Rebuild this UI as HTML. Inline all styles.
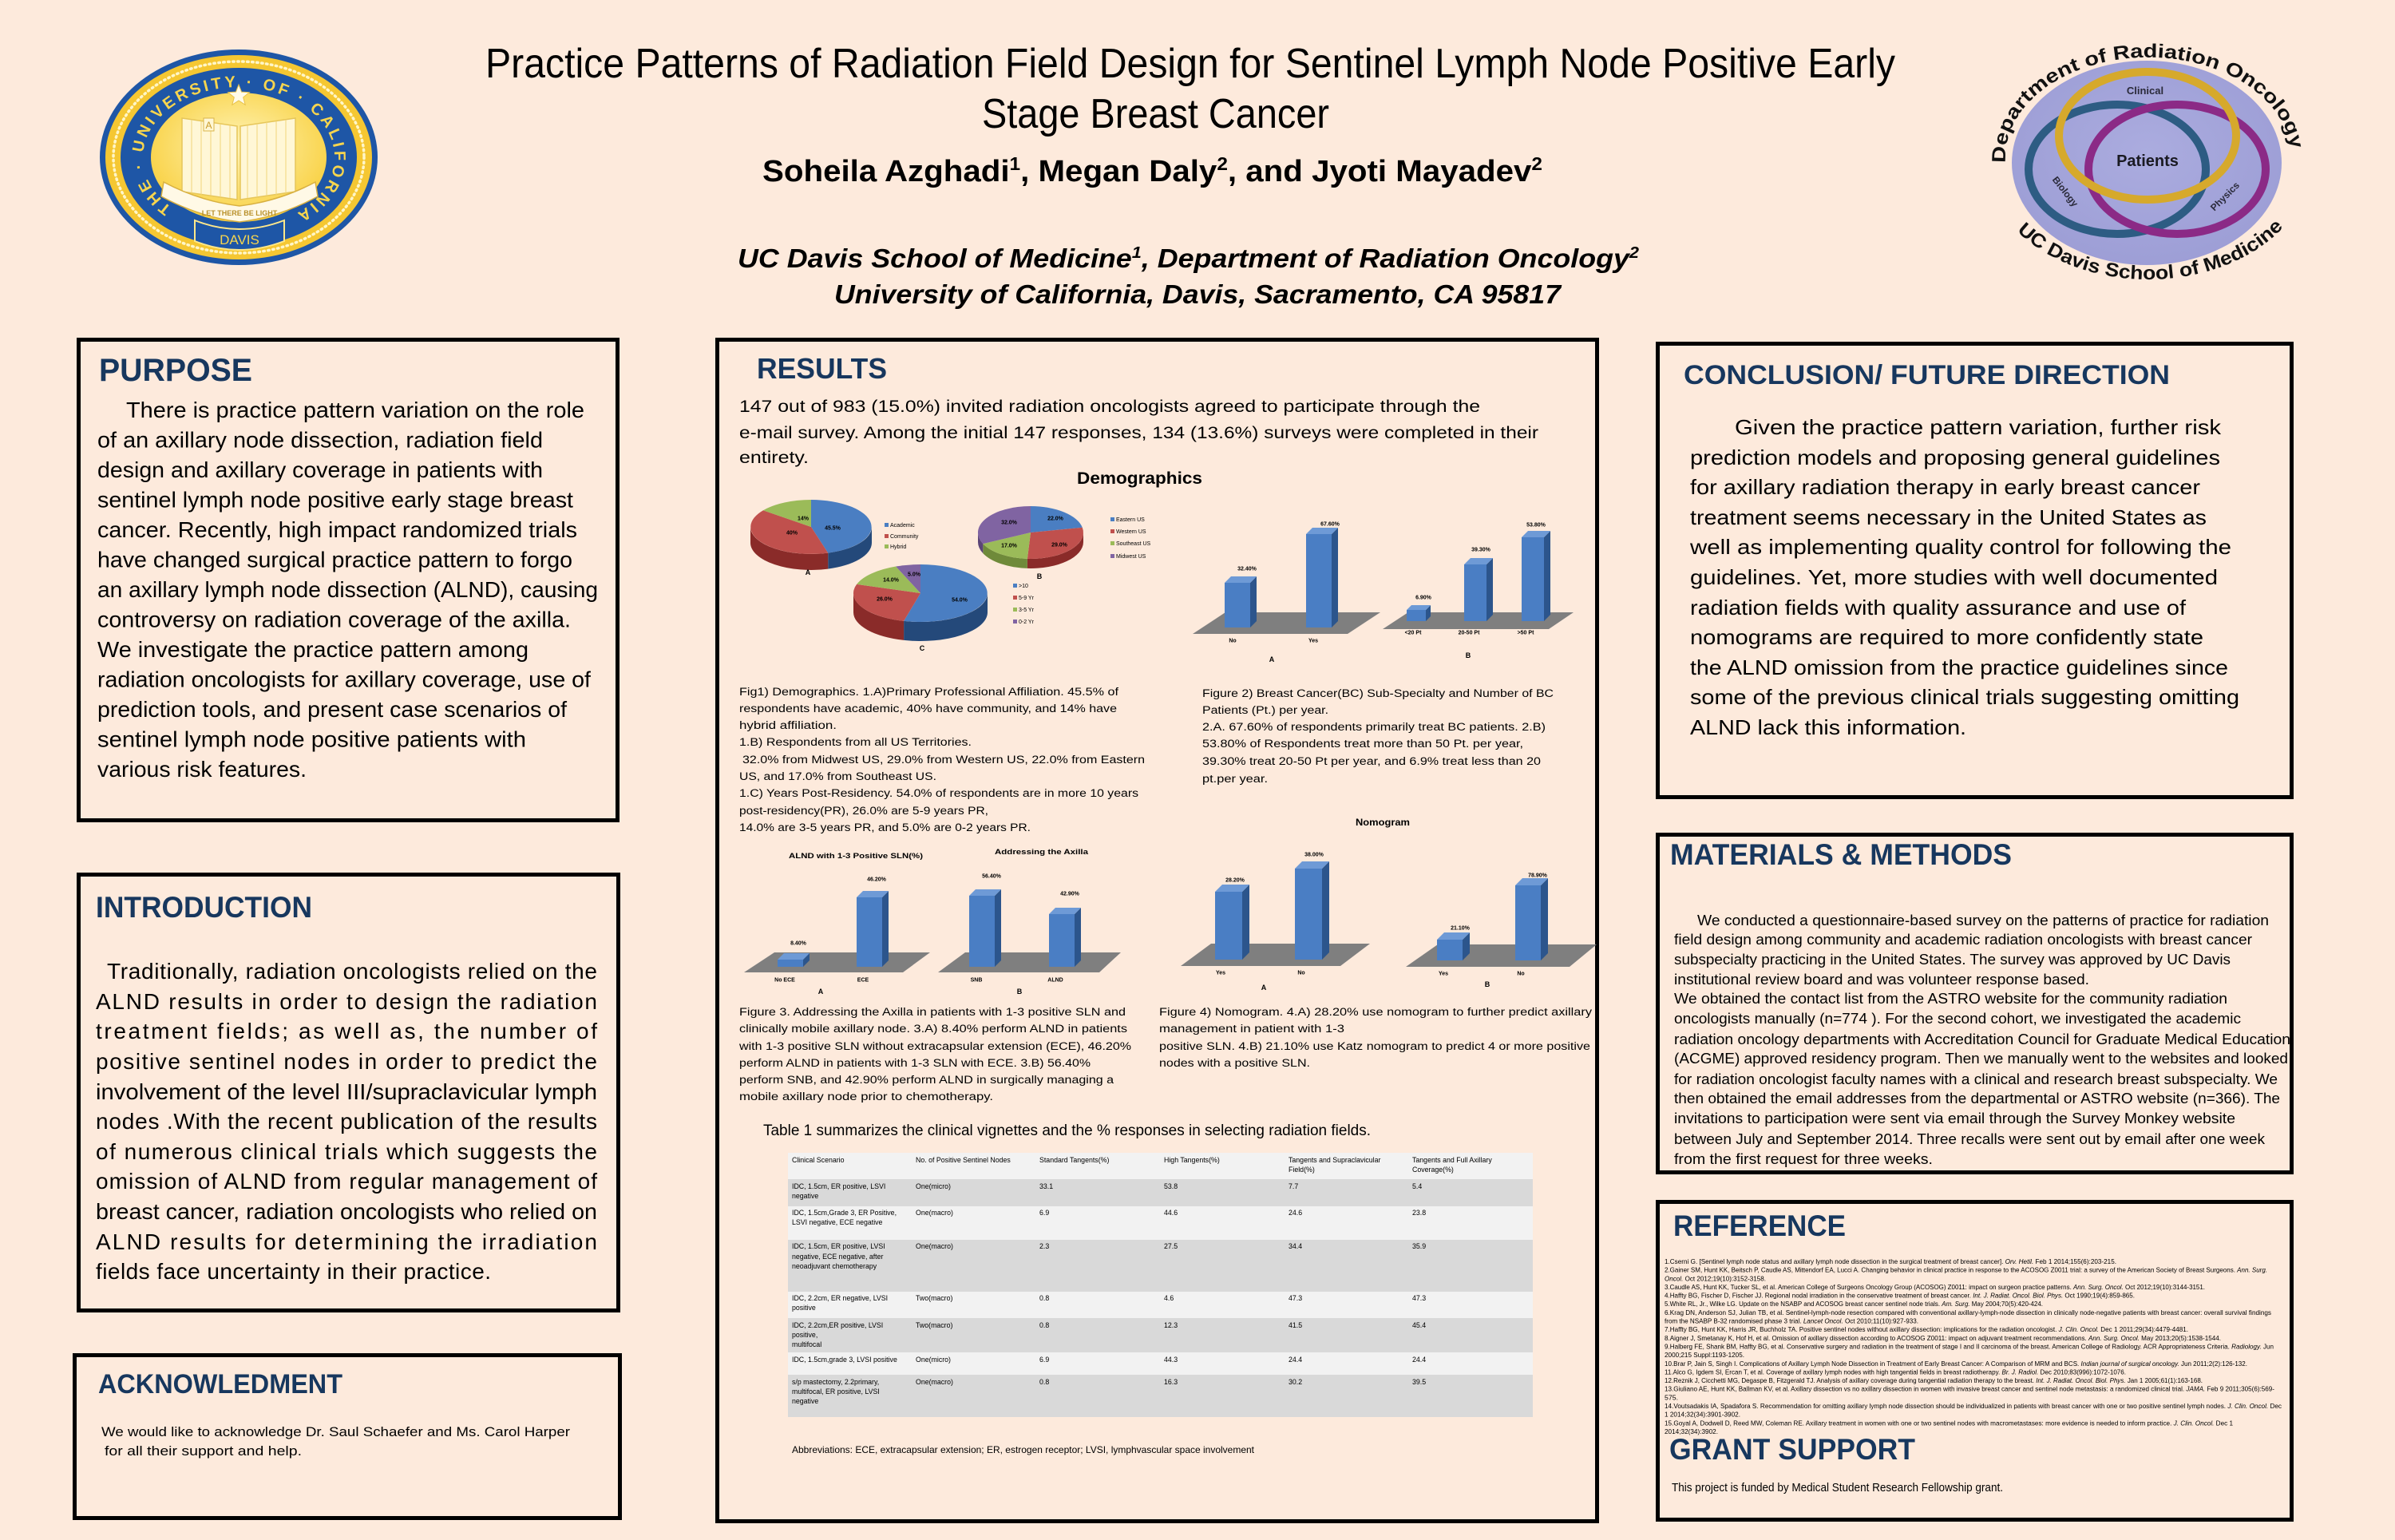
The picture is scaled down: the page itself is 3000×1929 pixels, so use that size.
<!DOCTYPE html>
<html><head><meta charset="utf-8"><title>Practice Patterns of Radiation Field Design</title>
<style>
html,body{margin:0;padding:0;background:#FDEADC;}
svg{display:block;}
text{font-family:"Liberation Sans",Arial,sans-serif;fill:#000;}
.h{font-weight:bold;fill:#17375E;}
.b{font-weight:bold;}
.bi{font-weight:bold;font-style:italic;}
.i{font-style:italic;}
.p{font-size:28px;}
.c{font-size:13.5px;}
.m{font-size:18.5px;}
.r{font-size:8.6px;}
.cl{font-size:26px;}
.tb{font-size:8.8px;fill:#222;}
.lb{font-size:7px;font-weight:bold;text-anchor:middle;}
.lg{font-size:7px;}
.ab{font-size:9px;font-weight:bold;text-anchor:middle;}
.box{fill:none;stroke:#000;stroke-width:5;}
</style></head>
<body>
<svg width="3000" height="1929" viewBox="0 0 3000 1929" xmlns="http://www.w3.org/2000/svg">
<defs>
<radialGradient id="goldg" cx="50%" cy="42%" r="60%"><stop offset="0" stop-color="#FFF4B8"/><stop offset="1" stop-color="#F8CF3C"/></radialGradient>
<radialGradient id="lav" cx="50%" cy="45%" r="60%"><stop offset="0" stop-color="#ABACDF"/><stop offset="1" stop-color="#9C9DD5"/></radialGradient>
</defs>
<rect x="0" y="0" width="3000" height="1929" fill="#FDEADC"/>

<!-- ========== UC Davis seal ========== -->
<g>
<ellipse cx="299" cy="197" rx="174" ry="135" fill="#1E56A6"/>
<ellipse cx="299" cy="197" rx="167" ry="128" fill="#F5C732"/>
<ellipse cx="299" cy="197" rx="157" ry="120" fill="none" stroke="#FFF6C8" stroke-width="3.5" stroke-dasharray="1.5 4.5" stroke-linecap="round"/>
<ellipse cx="299" cy="197" rx="148" ry="112" fill="#1E56A6"/>
<ellipse cx="299" cy="197" rx="110" ry="81" fill="url(#goldg)"/>
<path id="sealArc" d="M221.9,264.4 A120,88 0 1 1 376.1,264.4" fill="none"/>
<text font-size="20" style="fill:#F7D54E" font-weight="bold"><textPath href="#sealArc" startOffset="8" textLength="492" lengthAdjust="spacing">THE · UNIVERSITY · OF · CALIFORNIA</textPath></text>
<polygon points="299,106 302.5,115.1 312.3,115.7 304.7,121.9 307.2,131.3 299,126 290.8,131.3 293.3,121.9 285.7,115.7 295.5,115.1" fill="#FFFBE8" stroke="#E8C24A" stroke-width="1"/>
<polygon points="228,148 297,158 297,250 228,240" fill="#FFF7D6" stroke="#E6C65A" stroke-width="1.5"/>
<polygon points="301,158 370,148 370,240 301,250" fill="#FFF7D6" stroke="#E6C65A" stroke-width="1.5"/>
<g stroke="#F0D67A" stroke-width="1">
<line x1="240" y1="150" x2="240" y2="242"/><line x1="252" y1="152" x2="252" y2="244"/><line x1="264" y1="153" x2="264" y2="245"/><line x1="276" y1="155" x2="276" y2="247"/><line x1="288" y1="157" x2="288" y2="248"/>
<line x1="310" y1="157" x2="310" y2="248"/><line x1="322" y1="155" x2="322" y2="247"/><line x1="334" y1="153" x2="334" y2="245"/><line x1="346" y1="152" x2="346" y2="244"/><line x1="358" y1="150" x2="358" y2="242"/>
</g>
<rect x="255" y="148" width="13" height="16" fill="#FFF7D6" stroke="#D9B44A" stroke-width="1"/>
<text x="261.5" y="161" font-size="12" text-anchor="middle" style="fill:#C89B2A">A</text>
<path d="M205,228 Q250,252 300,258 Q350,252 395,228 L398,246 Q350,272 300,278 Q250,272 202,246 Z" fill="#FFF9E6" stroke="#D8B040" stroke-width="1.5"/>
<text x="300" y="270" font-size="9" text-anchor="middle" style="fill:#B8902A" font-weight="bold">LET THERE BE LIGHT</text>
<path d="M244,276 Q299,298 356,276 L356,302 Q299,324 244,302 Z" fill="#1E56A6" stroke="#FFE88A" stroke-width="2"/>
<text x="300" y="306" font-size="17" text-anchor="middle" style="fill:#F7D54E">DAVIS</text>
</g>

<!-- ========== Title ========== -->
<text x="608" y="97" font-size="52" textLength="1766" lengthAdjust="spacingAndGlyphs">Practice Patterns of Radiation Field Design for Sentinel Lymph Node Positive Early</text>
<text x="1230" y="160" font-size="52" textLength="435" lengthAdjust="spacingAndGlyphs">Stage Breast Cancer</text>
<text x="955" y="227" font-size="38" class="b" textLength="977" lengthAdjust="spacingAndGlyphs">Soheila Azghadi<tspan font-size="23" dy="-14">1</tspan><tspan dy="14">, Megan Daly</tspan><tspan font-size="23" dy="-14">2</tspan><tspan dy="14">, and Jyoti Mayadev</tspan><tspan font-size="23" dy="-14">2</tspan></text>
<text x="924" y="335" font-size="33" class="bi" textLength="1129" lengthAdjust="spacingAndGlyphs">UC Davis School of Medicine<tspan font-size="20" dy="-12">1</tspan><tspan dy="12">, Department of Radiation Oncology</tspan><tspan font-size="20" dy="-12">2</tspan></text>
<text x="1045" y="380" font-size="33" class="bi" textLength="910" lengthAdjust="spacingAndGlyphs">University of California, Davis, Sacramento, CA 95817</text>

<!-- ========== Dept logo ========== -->
<g>
<ellipse cx="2689" cy="204" rx="169" ry="128" fill="url(#lav)"/>
<ellipse cx="2652" cy="212" rx="111" ry="81" fill="none" stroke="#2D5C83" stroke-width="10"/>
<ellipse cx="2727" cy="212" rx="111" ry="81" fill="none" stroke="#8B2A86" stroke-width="10"/>
<ellipse cx="2690" cy="170" rx="111" ry="80" fill="none" stroke="#D6A92C" stroke-width="10"/>
<text x="2687" y="118" font-size="13" class="b" text-anchor="middle" style="fill:#2A2A3A">Clinical</text>
<text x="2690" y="208" font-size="20" class="b" text-anchor="middle" style="fill:#1A1A22">Patients</text>
<text x="2587" y="244" font-size="12" class="b" text-anchor="middle" style="fill:#2A2A3A" transform="rotate(52 2587 240)">Biology</text>
<text x="2787" y="250" font-size="12" class="b" text-anchor="middle" style="fill:#2A2A3A" transform="rotate(-45 2787 246)">Physics</text>
<path id="topArc" d="M2513,210 A179,125 0 1 1 2869,210" fill="none"/>
<text font-size="24" class="b" style="fill:#111"><textPath href="#topArc" startOffset="6" textLength="478" lengthAdjust="spacingAndGlyphs">Department of Radiation Oncology</textPath></text>
<path id="botArc" d="M2525,288 A206,152 0 0 0 2857,288" fill="none"/>
<text font-size="24" class="b" style="fill:#111"><textPath href="#botArc" startOffset="2" textLength="366" lengthAdjust="spacingAndGlyphs">UC Davis School of Medicine</textPath></text>
</g>

<!-- ========== Boxes ========== -->
<rect class="box" x="98.5" y="425.5" width="675" height="602"/>
<rect class="box" x="98.5" y="1095.5" width="676" height="546"/>
<rect class="box" x="93.5" y="1697.5" width="683" height="204"/>
<rect class="box" x="898.5" y="425.5" width="1102" height="1480"/>
<rect class="box" x="2076.5" y="430.5" width="794" height="568"/>
<rect class="box" x="2076.5" y="1045.5" width="794" height="423"/>
<rect class="box" x="2076.5" y="1505.5" width="794" height="398"/>

<!-- ========== PURPOSE ========== -->
<text x="124" y="477" font-size="40" class="h" textLength="192" lengthAdjust="spacingAndGlyphs">PURPOSE</text>
<g class="p">
<text x="158" y="523" textLength="574" lengthAdjust="spacingAndGlyphs">There is practice pattern variation on the role</text>
<text x="122" y="560.5" textLength="558" lengthAdjust="spacingAndGlyphs">of an axillary node dissection, radiation field</text>
<text x="122" y="598" textLength="558" lengthAdjust="spacingAndGlyphs">design and axillary coverage in patients with</text>
<text x="122" y="635.5" textLength="596" lengthAdjust="spacingAndGlyphs">sentinel lymph node positive early stage breast</text>
<text x="122" y="673" textLength="601" lengthAdjust="spacingAndGlyphs">cancer.  Recently, high impact randomized trials</text>
<text x="122" y="710.5" textLength="595" lengthAdjust="spacingAndGlyphs">have changed surgical practice pattern to forgo</text>
<text x="122" y="748" textLength="627" lengthAdjust="spacingAndGlyphs">an axillary lymph node dissection (ALND), causing</text>
<text x="122" y="785.5" textLength="593" lengthAdjust="spacingAndGlyphs">controversy on radiation coverage of the axilla.</text>
<text x="122" y="823" textLength="540" lengthAdjust="spacingAndGlyphs">We investigate the practice pattern among</text>
<text x="122" y="860.5" textLength="618" lengthAdjust="spacingAndGlyphs">radiation oncologists for axillary coverage, use of</text>
<text x="122" y="898" textLength="588" lengthAdjust="spacingAndGlyphs">prediction tools, and present case scenarios of</text>
<text x="122" y="935.5" textLength="537" lengthAdjust="spacingAndGlyphs">sentinel lymph node positive patients with</text>
<text x="122" y="973" textLength="262" lengthAdjust="spacingAndGlyphs">various risk features.</text>
</g>

<!-- ========== INTRODUCTION ========== -->
<text x="120" y="1149" font-size="37" class="h" textLength="271" lengthAdjust="spacingAndGlyphs">INTRODUCTION</text>
<g class="p">
<text x="134" y="1226" textLength="614" lengthAdjust="spacing">Traditionally, radiation oncologists relied on the</text>
<text x="120" y="1264" textLength="628" lengthAdjust="spacing">ALND results in order to design the radiation</text>
<text x="120" y="1301" textLength="628" lengthAdjust="spacing">treatment fields; as well as, the number of</text>
<text x="120" y="1339" textLength="628" lengthAdjust="spacing">positive sentinel nodes in order to predict the</text>
<text x="120" y="1377" textLength="628" lengthAdjust="spacingAndGlyphs">involvement of the level III/supraclavicular lymph</text>
<text x="120" y="1414" textLength="628" lengthAdjust="spacing">nodes .With the recent publication of the results</text>
<text x="120" y="1452" textLength="628" lengthAdjust="spacing">of numerous clinical trials which suggests the</text>
<text x="120" y="1489" textLength="628" lengthAdjust="spacing">omission of ALND from regular management of</text>
<text x="120" y="1527" textLength="628" lengthAdjust="spacingAndGlyphs">breast cancer, radiation oncologists who relied on</text>
<text x="120" y="1565" textLength="628" lengthAdjust="spacing">ALND results for determining the irradiation</text>
<text x="120" y="1602" textLength="495" lengthAdjust="spacing">fields face uncertainty in their practice.</text>
</g>

<!-- ========== ACKNOWLEDGMENT ========== -->
<text x="123" y="1745" font-size="34" class="h" textLength="306" lengthAdjust="spacingAndGlyphs">ACKNOWLEDMENT</text>
<text x="127" y="1799" font-size="17" textLength="587" lengthAdjust="spacingAndGlyphs">We would like to acknowledge Dr. Saul Schaefer and Ms. Carol Harper</text>
<text x="131" y="1823" font-size="17" textLength="247" lengthAdjust="spacingAndGlyphs">for all their support and help.</text>

<!-- ========== RESULTS ========== -->
<text x="948" y="474" font-size="36" class="h" textLength="163" lengthAdjust="spacingAndGlyphs">RESULTS</text>
<text x="926" y="516" font-size="21" textLength="928" lengthAdjust="spacingAndGlyphs">147 out of 983 (15.0%) invited radiation oncologists agreed to participate through the</text>
<text x="926" y="549" font-size="21" textLength="1001" lengthAdjust="spacingAndGlyphs">e-mail survey. Among the initial 147 responses, 134 (13.6%) surveys were completed in their</text>
<text x="926" y="580" font-size="21" textLength="87" lengthAdjust="spacingAndGlyphs">entirety.</text>
<text x="1349" y="606" font-size="21" class="b" textLength="157" lengthAdjust="spacingAndGlyphs">Demographics</text>

<!-- Pie A -->
<path d="M1092,660 A76,34 0 0 1 1037.2,692.6 L1037.2,712.6 A76,34 0 0 0 1092,680 Z" fill="#24497A"/>
<path d="M1037.2,692.6 A76,34 0 0 1 940,660 L940,680 A76,34 0 0 0 1037.2,712.6 Z" fill="#8A2B29"/>
<path d="M1016,660 L1016,626 A76,34 0 0 1 1037.2,692.6 Z" fill="#4A7EC2"/>
<path d="M1016,660 L1037.2,692.6 A76,34 0 0 1 956,639.2 Z" fill="#C0504D"/>
<path d="M1016,660 L956,639.2 A76,34 0 0 1 1016,626 Z" fill="#9BBB59"/>
<text class="lb" x="1043" y="663.5">45.5%</text>
<text class="lb" x="992" y="669.5">40%</text>
<text class="lb" x="1006" y="651.5">14%</text>
<rect x="1108" y="655" width="5" height="5" fill="#4A7EC2"/><text class="lg" x="1115" y="660">Academic</text>
<rect x="1108" y="669" width="5" height="5" fill="#C0504D"/><text class="lg" x="1115" y="674">Community</text>
<rect x="1108" y="682" width="5" height="5" fill="#9BBB59"/><text class="lg" x="1115" y="687">Hybrid</text>
<text class="ab" x="1012" y="720">A</text>

<!-- Pie B -->
<path d="M1357,667 A66,33 0 0 1 1286.9,699.9 L1286.9,711.9 A66,33 0 0 0 1357,679 Z" fill="#8A2B29"/>
<path d="M1286.9,699.9 A66,33 0 0 1 1231.3,681.1 L1231.3,693.1 A66,33 0 0 0 1286.9,711.9 Z" fill="#6F8A3A"/>
<path d="M1231.3,681.1 A66,33 0 0 1 1225,667 L1225,679 A66,33 0 0 0 1231.3,693.1 Z" fill="#5B4577"/>
<path d="M1291,667 L1291,634 A66,33 0 0 1 1355.8,660.8 Z" fill="#4A7EC2"/>
<path d="M1291,667 L1355.8,660.8 A66,33 0 0 1 1286.9,699.9 Z" fill="#C0504D"/>
<path d="M1291,667 L1286.9,699.9 A66,33 0 0 1 1231.3,681.1 Z" fill="#9BBB59"/>
<path d="M1291,667 L1231.3,681.1 A66,33 0 0 1 1291,634 Z" fill="#8064A2"/>
<text class="lb" x="1322" y="651.5">22.0%</text>
<text class="lb" x="1327" y="684.5">29.0%</text>
<text class="lb" x="1264" y="685.5">17.0%</text>
<text class="lb" x="1264" y="656.5">32.0%</text>
<rect x="1391" y="648" width="5" height="5" fill="#4A7EC2"/><text class="lg" x="1398" y="653">Eastern US</text>
<rect x="1391" y="663" width="5" height="5" fill="#C0504D"/><text class="lg" x="1398" y="668">Western US</text>
<rect x="1391" y="678" width="5" height="5" fill="#9BBB59"/><text class="lg" x="1398" y="683">Southeast US</text>
<rect x="1391" y="694" width="5" height="5" fill="#8064A2"/><text class="lg" x="1398" y="699">Midwest US</text>
<text class="ab" x="1302" y="725">B</text>

<!-- Pie C -->
<path d="M1237,743 A84,36 0 0 1 1132.1,777.9 L1132.1,801.9 A84,36 0 0 0 1237,767 Z" fill="#24497A"/>
<path d="M1132.1,777.9 A84,36 0 0 1 1069,743 L1069,767 A84,36 0 0 0 1132.1,801.9 Z" fill="#8A2B29"/>
<path d="M1153,743 L1153,707 A84,36 0 1 1 1132.1,777.9 Z" fill="#4A7EC2"/>
<path d="M1153,743 L1132.1,777.9 A84,36 0 0 1 1073.1,731.9 Z" fill="#C0504D"/>
<path d="M1153,743 L1073.1,731.9 A84,36 0 0 1 1122.1,709.5 Z" fill="#9BBB59"/>
<path d="M1153,743 L1122.1,709.5 A84,36 0 0 1 1153,707 Z" fill="#8064A2"/>
<text class="lb" x="1202" y="753.5">54.0%</text>
<text class="lb" x="1108" y="752.5">26.0%</text>
<text class="lb" x="1116" y="728.5">14.0%</text>
<text class="lb" x="1145" y="721.5">5.0%</text>
<rect x="1269" y="731" width="5" height="5" fill="#4A7EC2"/><text class="lg" x="1276" y="736">&gt;10</text>
<rect x="1269" y="746" width="5" height="5" fill="#C0504D"/><text class="lg" x="1276" y="751">5-9 Yr</text>
<rect x="1269" y="761" width="5" height="5" fill="#9BBB59"/><text class="lg" x="1276" y="766">3-5 Yr</text>
<rect x="1269" y="776" width="5" height="5" fill="#8064A2"/><text class="lg" x="1276" y="781">0-2 Yr</text>
<text class="ab" x="1155" y="815">C</text>

<!-- Floors -->
<g fill="#7F7F7F">
<polygon points="1535,767 1729,767 1688,794 1494,794"/>
<polygon points="1764,767 1971,767 1940,788 1732,788"/>
<polygon points="970,1193 1165,1193 1131,1218 932,1218"/>
<polygon points="1209,1193 1404,1193 1377,1218 1175,1218"/>
<polygon points="1517,1182 1716,1182 1679,1210 1479,1210"/>
<polygon points="1801,1183 2000,1183 1966,1211 1761,1211"/>
</g>

<!-- Bars -->
<g>
<rect x="1534" y="730" width="32" height="56" fill="#4A7EC4"/><polygon points="1566,730 1574,722 1574,778 1566,786" fill="#2C558C"/><polygon points="1534,730 1542,722 1574,722 1566,730" fill="#6E9AD6"/>
<rect x="1636" y="669" width="32" height="117" fill="#4A7EC4"/><polygon points="1668,669 1676,661 1676,778 1668,786" fill="#2C558C"/><polygon points="1636,669 1644,661 1676,661 1668,669" fill="#6E9AD6"/>
<rect x="1762" y="764" width="24" height="14" fill="#4A7EC4"/><polygon points="1786,764 1792,758 1792,772 1786,778" fill="#2C558C"/><polygon points="1762,764 1768,758 1792,758 1786,764" fill="#6E9AD6"/>
<rect x="1834" y="707" width="28" height="71" fill="#4A7EC4"/><polygon points="1862,707 1870,699 1870,770 1862,778" fill="#2C558C"/><polygon points="1834,707 1842,699 1870,699 1862,707" fill="#6E9AD6"/>
<rect x="1906" y="673" width="28" height="105" fill="#4A7EC4"/><polygon points="1934,673 1942,665 1942,770 1934,778" fill="#2C558C"/><polygon points="1906,673 1914,665 1942,665 1934,673" fill="#6E9AD6"/>
<rect x="974" y="1202" width="32" height="9" fill="#4A7EC4"/><polygon points="1006,1202 1014,1194 1014,1203 1006,1211" fill="#2C558C"/><polygon points="974,1202 982,1194 1014,1194 1006,1202" fill="#6E9AD6"/>
<rect x="1073" y="1124" width="32" height="87" fill="#4A7EC4"/><polygon points="1105,1124 1113,1116 1113,1203 1105,1211" fill="#2C558C"/><polygon points="1073,1124 1081,1116 1113,1116 1105,1124" fill="#6E9AD6"/>
<rect x="1214" y="1122" width="32" height="89" fill="#4A7EC4"/><polygon points="1246,1122 1254,1114 1254,1203 1246,1211" fill="#2C558C"/><polygon points="1214,1122 1222,1114 1254,1114 1246,1122" fill="#6E9AD6"/>
<rect x="1314" y="1145" width="32" height="66" fill="#4A7EC4"/><polygon points="1346,1145 1354,1137 1354,1203 1346,1211" fill="#2C558C"/><polygon points="1314,1145 1322,1137 1354,1137 1346,1145" fill="#6E9AD6"/>
<rect x="1522" y="1117" width="34" height="85" fill="#4A7EC4"/><polygon points="1556,1117 1565,1108 1565,1193 1556,1202" fill="#2C558C"/><polygon points="1522,1117 1531,1108 1565,1108 1556,1117" fill="#6E9AD6"/>
<rect x="1622" y="1088" width="34" height="114" fill="#4A7EC4"/><polygon points="1656,1088 1665,1079 1665,1193 1656,1202" fill="#2C558C"/><polygon points="1622,1088 1631,1079 1665,1079 1656,1088" fill="#6E9AD6"/>
<rect x="1800" y="1177" width="32" height="26" fill="#4A7EC4"/><polygon points="1832,1177 1841,1168 1841,1194 1832,1203" fill="#2C558C"/><polygon points="1800,1177 1809,1168 1841,1168 1832,1177" fill="#6E9AD6"/>
<rect x="1898" y="1109" width="32" height="94" fill="#4A7EC4"/><polygon points="1930,1109 1939,1100 1939,1194 1930,1203" fill="#2C558C"/><polygon points="1898,1109 1907,1100 1939,1100 1930,1109" fill="#6E9AD6"/>
</g>

<!-- Bar labels -->
<text class="lb" x="1562" y="714.5">32.40%</text>
<text class="lb" x="1666" y="658.5">67.60%</text>
<text class="lb" x="1783" y="750.5">6.90%</text>
<text class="lb" x="1855" y="690.5">39.30%</text>
<text class="lb" x="1924" y="659.5">53.80%</text>
<text class="lb" x="1544" y="804.5">No</text>
<text class="lb" x="1645" y="804.5">Yes</text>
<text class="lb" x="1770" y="794.5">&lt;20 Pt</text>
<text class="lb" x="1840" y="794.5">20-50 Pt</text>
<text class="lb" x="1911" y="794.5">&gt;50 Pt</text>
<text class="ab" x="1593" y="829">A</text>
<text class="ab" x="1839" y="824">B</text>

<text x="988" y="1075" font-size="9.5" class="b" textLength="168" lengthAdjust="spacingAndGlyphs">ALND with 1-3 Positive SLN(%)</text>
<text x="1246" y="1070" font-size="9.5" class="b" textLength="117" lengthAdjust="spacingAndGlyphs">Addressing the Axilla</text>
<text x="1698" y="1034" font-size="12" class="b" textLength="68" lengthAdjust="spacingAndGlyphs">Nomogram</text>
<text class="lb" x="1000" y="1183.5">8.40%</text>
<text class="lb" x="1098" y="1103.5">46.20%</text>
<text class="lb" x="1242" y="1099.5">56.40%</text>
<text class="lb" x="1340" y="1121.5">42.90%</text>
<text class="lb" x="983" y="1229.5">No ECE</text>
<text class="lb" x="1081" y="1229.5">ECE</text>
<text class="lb" x="1223" y="1229.5">SNB</text>
<text class="lb" x="1322" y="1229.5">ALND</text>
<text class="ab" x="1028" y="1245">A</text>
<text class="ab" x="1277" y="1245">B</text>
<text class="lb" x="1547" y="1104.5">28.20%</text>
<text class="lb" x="1646" y="1072.5">38.00%</text>
<text class="lb" x="1829" y="1164.5">21.10%</text>
<text class="lb" x="1926" y="1098.5">78.90%</text>
<text class="lb" x="1529" y="1220.5">Yes</text>
<text class="lb" x="1630" y="1220.5">No</text>
<text class="lb" x="1808" y="1221.5">Yes</text>
<text class="lb" x="1905" y="1221.5">No</text>
<text class="ab" x="1583" y="1240">A</text>
<text class="ab" x="1863" y="1236">B</text>

<!-- Fig captions -->
<g class="c">
<text x="926" y="871" textLength="475" lengthAdjust="spacingAndGlyphs">Fig1) Demographics. 1.A)Primary Professional Affiliation. 45.5% of</text>
<text x="926" y="892" textLength="473" lengthAdjust="spacingAndGlyphs">respondents have academic, 40% have community, and 14% have</text>
<text x="926" y="913" textLength="122" lengthAdjust="spacingAndGlyphs">hybrid affiliation.</text>
<text x="926" y="934" textLength="291" lengthAdjust="spacingAndGlyphs">1.B) Respondents from all US Territories.</text>
<text x="930" y="956" textLength="504" lengthAdjust="spacingAndGlyphs">32.0% from Midwest US, 29.0% from Western US, 22.0% from Eastern</text>
<text x="926" y="977" textLength="247" lengthAdjust="spacingAndGlyphs">US, and 17.0% from Southeast US.</text>
<text x="926" y="998" textLength="500" lengthAdjust="spacingAndGlyphs">1.C) Years Post-Residency. 54.0% of respondents are in more 10 years</text>
<text x="926" y="1020" textLength="312" lengthAdjust="spacingAndGlyphs">post-residency(PR), 26.0% are 5-9 years PR,</text>
<text x="926" y="1041" textLength="365" lengthAdjust="spacingAndGlyphs">14.0% are 3-5 years PR, and 5.0% are 0-2 years PR.</text>

<text x="1506" y="873" textLength="440" lengthAdjust="spacingAndGlyphs">Figure 2) Breast Cancer(BC) Sub-Specialty and Number of  BC</text>
<text x="1506" y="894" textLength="158" lengthAdjust="spacingAndGlyphs">Patients (Pt.) per year.</text>
<text x="1506" y="915" textLength="430" lengthAdjust="spacingAndGlyphs">2.A. 67.60% of respondents primarily treat BC patients. 2.B)</text>
<text x="1506" y="936" textLength="402" lengthAdjust="spacingAndGlyphs">53.80% of Respondents treat more than 50 Pt. per year,</text>
<text x="1506" y="958" textLength="424" lengthAdjust="spacingAndGlyphs">39.30% treat 20-50 Pt per year, and 6.9% treat less than 20</text>
<text x="1506" y="980" textLength="82" lengthAdjust="spacingAndGlyphs">pt.per year.</text>

<text x="926" y="1272" textLength="484" lengthAdjust="spacingAndGlyphs">Figure 3. Addressing the Axilla in patients with 1-3 positive SLN and</text>
<text x="926" y="1293" textLength="486" lengthAdjust="spacingAndGlyphs">clinically mobile axillary node. 3.A) 8.40% perform ALND in patients</text>
<text x="926" y="1315" textLength="491" lengthAdjust="spacingAndGlyphs">with 1-3 positive SLN without extracapsular extension (ECE), 46.20%</text>
<text x="926" y="1336" textLength="440" lengthAdjust="spacingAndGlyphs">perform ALND in patients with 1-3 SLN with ECE. 3.B) 56.40%</text>
<text x="926" y="1357" textLength="469" lengthAdjust="spacingAndGlyphs">perform SNB, and 42.90% perform ALND in surgically managing a</text>
<text x="926" y="1378" textLength="318" lengthAdjust="spacingAndGlyphs">mobile axillary node prior to chemotherapy.</text>

<text x="1452" y="1272" textLength="542" lengthAdjust="spacingAndGlyphs">Figure 4) Nomogram. 4.A) 28.20% use nomogram to further predict axillary</text>
<text x="1452" y="1293" textLength="232" lengthAdjust="spacingAndGlyphs">management in patient with 1-3</text>
<text x="1452" y="1315" textLength="540" lengthAdjust="spacingAndGlyphs">positive SLN. 4.B) 21.10% use Katz nomogram to predict 4 or more positive</text>
<text x="1452" y="1336" textLength="189" lengthAdjust="spacingAndGlyphs">nodes with a positive SLN.</text>
</g>

<text x="956" y="1422" font-size="19" textLength="761" lengthAdjust="spacingAndGlyphs">Table 1 summarizes the clinical vignettes and the % responses in selecting  radiation fields.</text>

<!-- Table -->
<rect x="987" y="1444" width="933" height="33" fill="#F2F2F2"/>
<rect x="987" y="1477" width="933" height="34" fill="#D9D9D9"/>
<rect x="987" y="1511" width="933" height="42" fill="#F2F2F2"/>
<rect x="987" y="1553" width="933" height="65" fill="#D9D9D9"/>
<rect x="987" y="1618" width="933" height="33" fill="#F2F2F2"/>
<rect x="987" y="1651" width="933" height="43" fill="#D9D9D9"/>
<rect x="987" y="1694" width="933" height="28" fill="#F2F2F2"/>
<rect x="987" y="1722" width="933" height="53" fill="#D9D9D9"/>
<g class="tb">
<text x="992" y="1456">Clinical Scenario</text><text x="1147" y="1456">No. of Positive Sentinel Nodes</text><text x="1302" y="1456">Standard Tangents(%)</text><text x="1458" y="1456">High Tangents(%)</text><text x="1614" y="1456">Tangents and Supraclavicular</text><text x="1614" y="1468">Field(%)</text><text x="1769" y="1456">Tangents and Full Axillary</text><text x="1769" y="1468">Coverage(%)</text>
<text x="992" y="1489">IDC, 1.5cm, ER positive, LSVI</text><text x="992" y="1501">negative</text><text x="1147" y="1489">One(micro)</text><text x="1302" y="1489">33.1</text><text x="1458" y="1489">53.8</text><text x="1614" y="1489">7.7</text><text x="1769" y="1489">5.4</text>
<text x="992" y="1522">IDC, 1.5cm,Grade 3, ER Positive,</text><text x="992" y="1534">LSVI negative, ECE negative</text><text x="1147" y="1522">One(macro)</text><text x="1302" y="1522">6.9</text><text x="1458" y="1522">44.6</text><text x="1614" y="1522">24.6</text><text x="1769" y="1522">23.8</text>
<text x="992" y="1564">IDC, 1.5cm, ER positive, LVSI</text><text x="992" y="1577">negative, ECE negative, after</text><text x="992" y="1589">neoadjuvant chemotherapy</text><text x="1147" y="1564">One(macro)</text><text x="1302" y="1564">2.3</text><text x="1458" y="1564">27.5</text><text x="1614" y="1564">34.4</text><text x="1769" y="1564">35.9</text>
<text x="992" y="1629">IDC, 2.2cm, ER negative, LVSI</text><text x="992" y="1641">positive</text><text x="1147" y="1629">Two(macro)</text><text x="1302" y="1629">0.8</text><text x="1458" y="1629">4.6</text><text x="1614" y="1629">47.3</text><text x="1769" y="1629">47.3</text>
<text x="992" y="1663">IDC, 2.2cm,ER positive, LVSI</text><text x="992" y="1675">positive,</text><text x="992" y="1687">multifocal</text><text x="1147" y="1663">Two(macro)</text><text x="1302" y="1663">0.8</text><text x="1458" y="1663">12.3</text><text x="1614" y="1663">41.5</text><text x="1769" y="1663">45.4</text>
<text x="992" y="1706">IDC, 1.5cm,grade 3, LVSI positive</text><text x="1147" y="1706">One(micro)</text><text x="1302" y="1706">6.9</text><text x="1458" y="1706">44.3</text><text x="1614" y="1706">24.4</text><text x="1769" y="1706">24.4</text>
<text x="992" y="1734">s/p mastectomy, 2.2primary,</text><text x="992" y="1746">multifocal, ER positive, LVSI</text><text x="992" y="1758">negative</text><text x="1147" y="1734">One(macro)</text><text x="1302" y="1734">0.8</text><text x="1458" y="1734">16.3</text><text x="1614" y="1734">30.2</text><text x="1769" y="1734">39.5</text>
</g>
<text x="992" y="1820" font-size="12" textLength="579" lengthAdjust="spacingAndGlyphs">Abbreviations: ECE, extracapsular extension; ER, estrogen receptor; LVSI, lymphvascular space involvement</text>

<!-- ========== CONCLUSION ========== -->
<text x="2109" y="481" font-size="34" class="h" textLength="609" lengthAdjust="spacingAndGlyphs">CONCLUSION/ FUTURE DIRECTION</text>
<g class="cl">
<text x="2173" y="544" textLength="609" lengthAdjust="spacingAndGlyphs">Given the practice pattern variation, further risk</text>
<text x="2117" y="582" textLength="664" lengthAdjust="spacingAndGlyphs">prediction models and proposing  general guidelines</text>
<text x="2117" y="619" textLength="639" lengthAdjust="spacingAndGlyphs">for axillary radiation therapy in early breast cancer</text>
<text x="2117" y="657" textLength="647" lengthAdjust="spacingAndGlyphs">treatment  seems necessary in the United States as</text>
<text x="2117" y="694" textLength="678" lengthAdjust="spacingAndGlyphs">well as implementing quality control for following the</text>
<text x="2117" y="732" textLength="661" lengthAdjust="spacingAndGlyphs">guidelines. Yet, more studies  with well documented</text>
<text x="2117" y="770" textLength="621" lengthAdjust="spacingAndGlyphs">radiation fields with quality assurance and use of</text>
<text x="2117" y="807" textLength="643" lengthAdjust="spacingAndGlyphs">nomograms are required to more confidently state</text>
<text x="2117" y="845" textLength="674" lengthAdjust="spacingAndGlyphs">the ALND omission from the practice guidelines since</text>
<text x="2117" y="882" textLength="688" lengthAdjust="spacingAndGlyphs">some of the previous clinical trials suggesting omitting</text>
<text x="2117" y="920" textLength="346" lengthAdjust="spacingAndGlyphs">ALND lack this information.</text>
</g>

<!-- ========== MATERIALS & METHODS ========== -->
<text x="2092" y="1083" font-size="37" class="h" textLength="428" lengthAdjust="spacingAndGlyphs">MATERIALS &amp; METHODS</text>
<g class="m">
<text x="2126" y="1159" textLength="716" lengthAdjust="spacingAndGlyphs">We conducted a questionnaire-based survey on the patterns of practice for radiation</text>
<text x="2097" y="1183" textLength="724" lengthAdjust="spacingAndGlyphs">field design among community and academic radiation oncologists with breast cancer</text>
<text x="2097" y="1208" textLength="697" lengthAdjust="spacingAndGlyphs">subspecialty practicing in the United States.  The survey was approved by UC Davis</text>
<text x="2097" y="1233" textLength="520" lengthAdjust="spacingAndGlyphs">institutional review board and was volunteer response based.</text>
<text x="2097" y="1257" textLength="693" lengthAdjust="spacingAndGlyphs">We obtained the contact list from the ASTRO website for the community radiation</text>
<text x="2097" y="1282" textLength="710" lengthAdjust="spacingAndGlyphs">oncologists manually (n=774 ). For the second cohort, we investigated the academic</text>
<text x="2097" y="1308" textLength="772" lengthAdjust="spacingAndGlyphs">radiation oncology departments with Accreditation Council for Graduate Medical Education</text>
<text x="2097" y="1332" textLength="769" lengthAdjust="spacingAndGlyphs">(ACGME) approved residency program. Then we manually went to the websites and looked</text>
<text x="2097" y="1358" textLength="756" lengthAdjust="spacingAndGlyphs">for radiation oncologist faculty names with a clinical and research breast subspecialty. We</text>
<text x="2097" y="1382" textLength="759" lengthAdjust="spacingAndGlyphs">then obtained the email addresses from the departmental or ASTRO website (n=366). The</text>
<text x="2097" y="1407" textLength="703" lengthAdjust="spacingAndGlyphs">invitations to participation were sent via email through the Survey Monkey website</text>
<text x="2097" y="1433" textLength="740" lengthAdjust="spacingAndGlyphs">between July and September 2014. Three recalls were sent out by email after one week</text>
<text x="2097" y="1458" textLength="324" lengthAdjust="spacingAndGlyphs">from the first request for three weeks.</text>
</g>

<!-- ========== REFERENCE ========== -->
<text x="2096" y="1548" font-size="37" class="h" textLength="216" lengthAdjust="spacingAndGlyphs">REFERENCE</text>
<g class="r">
<text x="2085" y="1583" textLength="566" lengthAdjust="spacingAndGlyphs">1.Cserni G. [Sentinel lymph node status and axillary lymph node dissection in the surgical treatment of breast cancer]. <tspan class="i">Orv. Hetil.</tspan> Feb 1 2014;155(6):203-215.</text>
<text x="2085" y="1593.6" textLength="755" lengthAdjust="spacingAndGlyphs">2.Gainer SM, Hunt KK, Beitsch P, Caudle AS, Mittendorf EA, Lucci A. Changing behavior in clinical practice in response to the ACOSOG Z0011 trial: a survey of the American Society of Breast Surgeons. <tspan class="i">Ann. Surg.</tspan></text>
<text x="2085" y="1604.3" textLength="127" lengthAdjust="spacingAndGlyphs"><tspan class="i">Oncol.</tspan> Oct 2012;19(10):3152-3158.</text>
<text x="2085" y="1614.9" textLength="677" lengthAdjust="spacingAndGlyphs">3.Caudle AS, Hunt KK, Tucker SL, et al. American College of Surgeons Oncology Group (ACOSOG) Z0011: impact on surgeon practice patterns. <tspan class="i">Ann. Surg. Oncol.</tspan> Oct 2012;19(10):3144-3151.</text>
<text x="2085" y="1625.6" textLength="589" lengthAdjust="spacingAndGlyphs">4.Haffty BG, Fischer D, Fischer JJ. Regional nodal irradiation in the conservative treatment of breast cancer. <tspan class="i">Int. J. Radiat. Oncol. Biol. Phys.</tspan> Oct 1990;19(4):859-865.</text>
<text x="2085" y="1636.2" textLength="474" lengthAdjust="spacingAndGlyphs">5.White RL, Jr., Wilke LG. Update on the NSABP and ACOSOG breast cancer sentinel node trials. <tspan class="i">Am. Surg.</tspan> May 2004;70(5):420-424.</text>
<text x="2085" y="1646.9" textLength="760" lengthAdjust="spacingAndGlyphs">6.Krag DN, Anderson SJ, Julian TB, et al. Sentinel-lymph-node resection compared with conventional axillary-lymph-node dissection in clinically node-negative patients with breast cancer: overall survival findings</text>
<text x="2085" y="1657.5" textLength="318" lengthAdjust="spacingAndGlyphs">from the NSABP B-32 randomised phase 3 trial. <tspan class="i">Lancet Oncol.</tspan> Oct 2010;11(10):927-933.</text>
<text x="2085" y="1668.2" textLength="656" lengthAdjust="spacingAndGlyphs">7.Haffty BG, Hunt KK, Harris JR, Buchholz TA. Positive sentinel nodes without axillary dissection: implications for the radiation oncologist. <tspan class="i">J. Clin. Oncol.</tspan> Dec 1 2011;29(34):4479-4481.</text>
<text x="2085" y="1678.8" textLength="697" lengthAdjust="spacingAndGlyphs">8.Aigner J, Smetanay K, Hof H, et al. Omission of axillary dissection according to ACOSOG Z0011: impact on adjuvant treatment recommendations. <tspan class="i">Ann. Surg. Oncol.</tspan> May 2013;20(5):1538-1544.</text>
<text x="2085" y="1689.5" textLength="763" lengthAdjust="spacingAndGlyphs">9.Halberg FE, Shank BM, Haffty BG, et al. Conservative surgery and radiation in the treatment of stage I and II carcinoma of the breast. American College of Radiology. ACR Appropriateness Criteria. <tspan class="i">Radiology.</tspan> Jun</text>
<text x="2085" y="1700.1" textLength="100" lengthAdjust="spacingAndGlyphs">2000;215 Suppl:1193-1205.</text>
<text x="2085" y="1710.8" textLength="730" lengthAdjust="spacingAndGlyphs">10.Brar P, Jain S, Singh I. Complications of Axillary Lymph Node Dissection in Treatment of Early Breast Cancer: A Comparison of MRM and BCS. <tspan class="i">Indian journal of surgical oncology.</tspan> Jun 2011;2(2):126-132.</text>
<text x="2085" y="1721.4" textLength="578" lengthAdjust="spacingAndGlyphs">11.Alco G, Igdem SI, Ercan T, et al. Coverage of axillary lymph nodes with high tangential fields in breast radiotherapy. <tspan class="i">Br. J. Radiol.</tspan> Dec 2010;83(996):1072-1076.</text>
<text x="2085" y="1732.1" textLength="674" lengthAdjust="spacingAndGlyphs">12.Reznik J, Cicchetti MG, Degaspe B, Fitzgerald TJ. Analysis of axillary coverage during tangential radiation therapy to the breast. <tspan class="i">Int. J. Radiat. Oncol. Biol. Phys.</tspan> Jan 1 2005;61(1):163-168.</text>
<text x="2085" y="1742.7" textLength="764" lengthAdjust="spacingAndGlyphs">13.Giuliano AE, Hunt KK, Ballman KV, et al. Axillary dissection vs no axillary dissection in women with invasive breast cancer and sentinel node metastasis: a randomized clinical trial. <tspan class="i">JAMA.</tspan> Feb 9 2011;305(6):569-</text>
<text x="2085" y="1753.4" textLength="17" lengthAdjust="spacingAndGlyphs">575.</text>
<text x="2085" y="1764" textLength="773" lengthAdjust="spacingAndGlyphs">14.Voutsadakis IA, Spadafora S. Recommendation for omitting axillary lymph node dissection should be individualized in patients with breast cancer with one or two positive sentinel lymph nodes. <tspan class="i">J. Clin. Oncol.</tspan> Dec</text>
<text x="2085" y="1774.7" textLength="95" lengthAdjust="spacingAndGlyphs">1 2014;32(34):3901-3902.</text>
<text x="2085" y="1785.3" textLength="712" lengthAdjust="spacingAndGlyphs">15.Goyal A, Dodwell D, Reed MW, Coleman RE. Axillary treatment in women with one or two sentinel nodes with macrometastases: more evidence is needed to inform practice. <tspan class="i">J. Clin. Oncol.</tspan> Dec 1</text>
<text x="2085" y="1796" textLength="67" lengthAdjust="spacingAndGlyphs">2014;32(34):3902.</text>
</g>
<text x="2091" y="1828" font-size="37" class="h" textLength="308" lengthAdjust="spacingAndGlyphs">GRANT SUPPORT</text>
<text x="2094" y="1868" font-size="15" textLength="415" lengthAdjust="spacingAndGlyphs">This project is funded by Medical Student Research Fellowship grant.</text>
</svg>
</body></html>
